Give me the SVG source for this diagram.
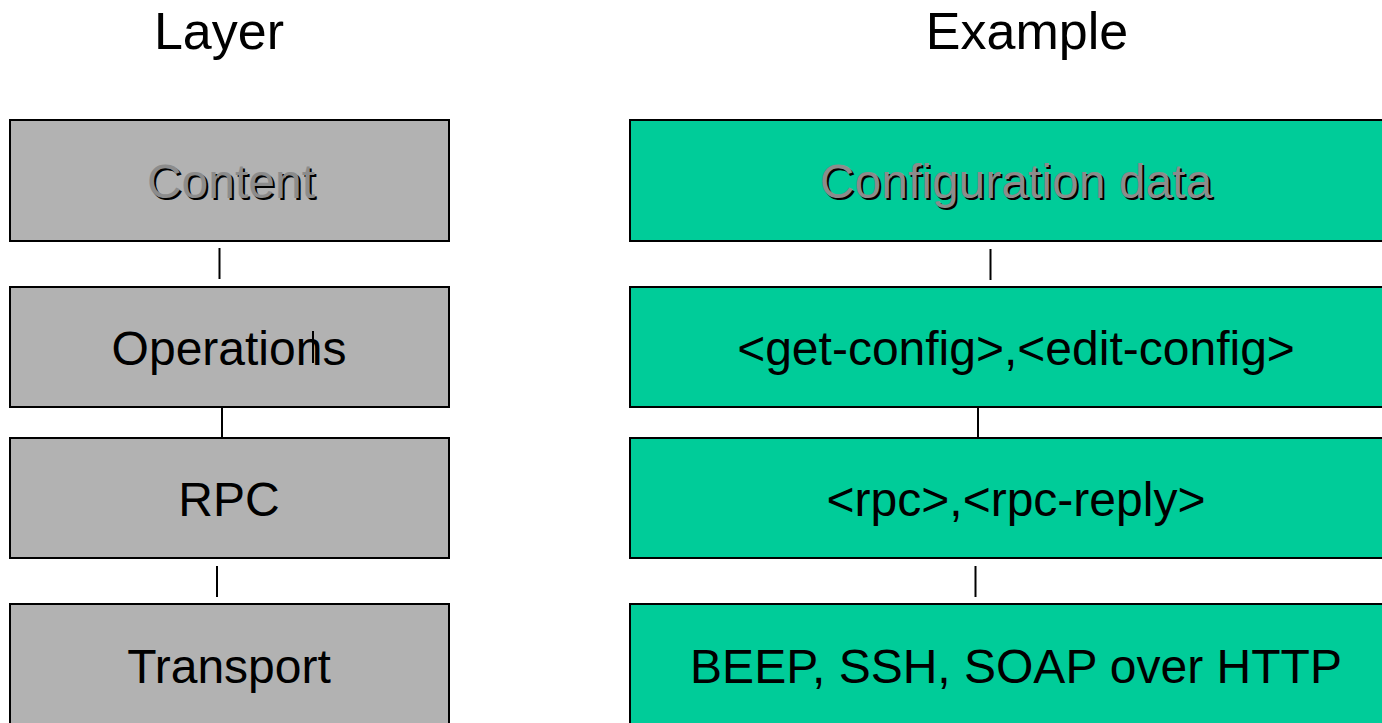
<svg xmlns="http://www.w3.org/2000/svg" width="1382" height="723" viewBox="0 0 1382 723">
  <style>
    .layer { fill: #b2b2b2; stroke: #000; stroke-width: 2; }
    .example { fill: #00cc99; stroke: #000; stroke-width: 2; }
    .head { font-family: "Liberation Sans", Arial, sans-serif; font-size: 52px; fill: #000; text-anchor: middle; }
    .label { font-family: "Liberation Sans", Arial, sans-serif; font-size: 48px; fill: #000; text-anchor: middle; }
    .embossed { fill: #8c8c8c; }
    .shadow { fill: #000; }
    .link { stroke: #000; stroke-width: 2; fill: none; }
  </style>
  <rect width="1382" height="723" fill="#fff"/>

  <!-- column headings -->
  <text class="head" x="219" y="49">Layer</text>
  <text class="head" x="1027" y="49">Example</text>

  <!-- protocol layers -->
  <g id="layer-content">
    <rect class="layer" x="10" y="120" width="439" height="121"/>
    <text class="label shadow" x="233" y="200">Content</text>
    <text class="label embossed" x="231" y="198">Content</text>
  </g>
  <g id="layer-operations">
    <rect class="layer" x="10" y="287" width="439" height="120"/>
    <text class="label" x="229" y="365">Operations</text>
  </g>
  <g id="layer-rpc">
    <rect class="layer" x="10" y="438" width="439" height="120"/>
    <text class="label" x="229" y="516">RPC</text>
  </g>
  <g id="layer-transport">
    <rect class="layer" x="10" y="604" width="439" height="130"/>
    <text class="label" x="229" y="683">Transport</text>
  </g>

  <!-- examples for each layer -->
  <g id="example-config">
    <rect class="example" x="630" y="120" width="770" height="121"/>
    <text class="label shadow" x="1018" y="200">Configuration data</text>
    <text class="label embossed" x="1016" y="198">Configuration data</text>
  </g>
  <g id="example-operations">
    <rect class="example" x="630" y="287" width="770" height="120"/>
    <text class="label" x="1016" y="365">&lt;get-config&gt;,&lt;edit-config&gt;</text>
  </g>
  <g id="example-rpc">
    <rect class="example" x="630" y="438" width="770" height="120"/>
    <text class="label" x="1016" y="516">&lt;rpc&gt;,&lt;rpc-reply&gt;</text>
  </g>
  <g id="example-transport">
    <rect class="example" x="630" y="604" width="770" height="130"/>
    <text class="label" x="1016" y="683">BEEP, SSH, SOAP over HTTP</text>
  </g>

  <!-- connectors between stacked boxes -->
  <g id="connectors">
    <line class="link" x1="219.5" y1="248" x2="219.5" y2="279"/>
    <line class="link" x1="313" y1="331" x2="313" y2="363"/>
    <line class="link" x1="222" y1="407" x2="222" y2="438"/>
    <line class="link" x1="217" y1="566" x2="217" y2="597"/>
    <line class="link" x1="990.5" y1="249" x2="990.5" y2="280"/>
    <line class="link" x1="978" y1="407" x2="978" y2="438"/>
    <line class="link" x1="975.5" y1="566" x2="975.5" y2="597"/>
  </g>
</svg>
